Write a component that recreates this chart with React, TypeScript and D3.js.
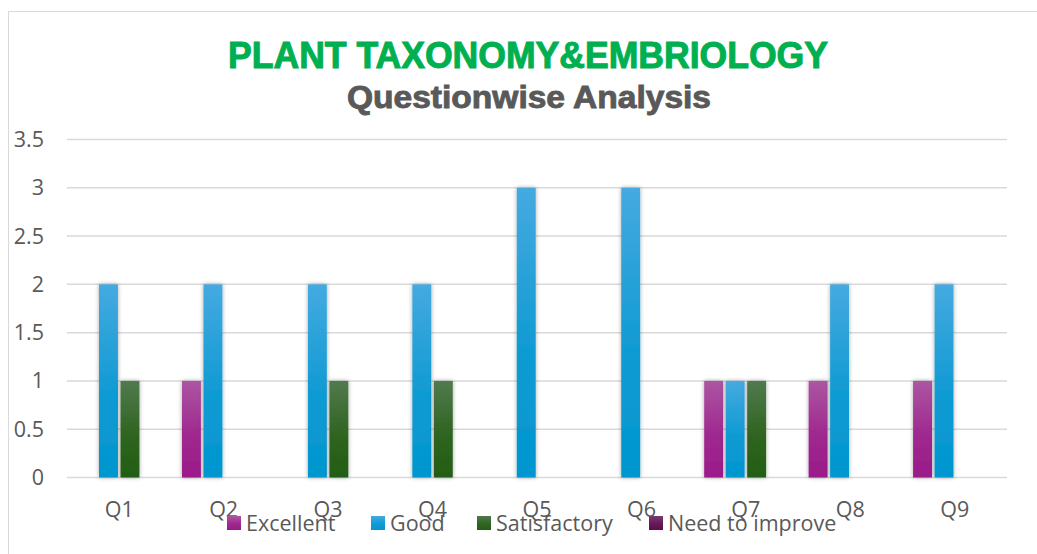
import React, { useEffect, useRef } from 'react';
import * as d3 from 'd3';

const categories = ['Q1', 'Q2', 'Q3', 'Q4', 'Q5', 'Q6', 'Q7', 'Q8', 'Q9'];
const seriesNames = ['Excellent', 'Good', 'Satisfactory', 'Need to improve'];
const excellent = [0, 1, 0, 0, 0, 0, 1, 1, 1];
const good = [2, 2, 2, 2, 3, 3, 1, 2, 2];
const satisfactory = [1, 0, 1, 1, 0, 0, 1, 0, 0];
const needToImprove = [0, 0, 0, 0, 0, 0, 0, 0, 0];
const yTicks = [0, 0.5, 1, 1.5, 2, 2.5, 3, 3.5];

// top / bottom colours of each series gradient
const seriesColors = [
  ['#ac56a2', '#9a1a89'],
  ['#45aae0', '#0096cf'],
  ['#517a4f', '#235e12'],
  ['#7a3a70', '#5e0c50'],
];

const App = () => {
  const svgRef = useRef<SVGSVGElement>(null);

  useEffect(() => {
    const width = 1037;
    const height = 554;
    const margin = { left: 67, right: 30, top: 139.5, bottom: 76.5 };
    const labelFont = '21.5px "Open Sans", sans-serif';

    const svg = d3.select(svgRef.current);
    svg.selectAll('*').remove();
    svg.attr('width', width).attr('height', height);

    const table = [excellent, good, satisfactory, needToImprove];

    const defs = svg.append('defs');
    seriesColors.forEach((c, i) => {
      const g = defs
        .append('linearGradient')
        .attr('id', `grad${i}`)
        .attr('x1', 0)
        .attr('y1', 0)
        .attr('x2', 0)
        .attr('y2', 1);
      g.append('stop').attr('offset', '0%').attr('stop-color', c[0]);
      g.append('stop').attr('offset', '55%').attr('stop-color', d3.interpolateRgb(c[0], c[1])(0.75));
      g.append('stop').attr('offset', '100%').attr('stop-color', c[1]);
    });
    const shadow = defs.append('filter').attr('id', 'shadow').attr('x', '-50%').attr('y', '-10%').attr('width', '200%').attr('height', '120%');
    shadow
      .append('feDropShadow')
      .attr('dx', 0)
      .attr('dy', 0)
      .attr('stdDeviation', 2)
      .attr('flood-color', '#000')
      .attr('flood-opacity', 0.35);

    // chart area border
    svg
      .append('rect')
      .attr('x', 8.5)
      .attr('y', 11.5)
      .attr('width', 1040)
      .attr('height', 560)
      .attr('fill', '#fff')
      .attr('stroke', '#d9d9d9')
      .attr('stroke-width', 1);

    const x0 = d3
      .scaleBand()
      .domain(categories)
      .range([margin.left, width - margin.right])
      .padding(0);

    const x1 = d3
      .scaleBand()
      .domain(seriesNames)
      .range([0, x0.bandwidth()])
      .paddingInner(0.12)
      .paddingOuter(0.49);

    const y = d3
      .scaleLinear()
      .domain([0, 3.5])
      .range([height - margin.bottom, margin.top]);

    // gridlines
    svg
      .append('g')
      .selectAll('line')
      .data(yTicks)
      .join('line')
      .attr('x1', margin.left)
      .attr('x2', width - margin.right)
      .attr('y1', (d) => y(d))
      .attr('y2', (d) => y(d))
      .attr('stroke', '#d9d9d9')
      .attr('stroke-width', 1.5);

    // y labels
    svg
      .append('g')
      .selectAll('text')
      .data(yTicks)
      .join('text')
      .attr('x', 44)
      .attr('y', (d) => y(d))
      .attr('dy', '0.35em')
      .attr('text-anchor', 'end')
      .attr('fill', '#595959')
      .style('font', labelFont)
      .text((d) => String(d));

    // bars
    const groups = svg
      .append('g')
      .selectAll('g')
      .data(categories)
      .join('g')
      .attr('transform', (d) => `translate(${x0(d)},0)`);

    groups
      .selectAll('rect')
      .data((_, ci) => seriesNames.map((s, si) => ({ s, si, v: table[si][ci] })).filter((d) => d.v > 0))
      .join('rect')
      .attr('x', (d) => x1(d.s)!)
      .attr('width', x1.bandwidth())
      .attr('y', (d) => y(d.v))
      .attr('height', (d) => y(0) - y(d.v))
      .attr('fill', (d) => `url(#grad${d.si})`)
      .attr('filter', 'url(#shadow)');

    // category labels
    svg
      .append('g')
      .selectAll('text')
      .data(categories)
      .join('text')
      .attr('x', (d) => x0(d)! + x0.bandwidth() / 2)
      .attr('y', 509)
      .attr('dy', '0.35em')
      .attr('text-anchor', 'middle')
      .attr('fill', '#595959')
      .style('font', labelFont)
      .text((d) => d);

    // legend
    const legendX = [227, 371, 477, 649];
    const legend = svg
      .append('g')
      .selectAll('g')
      .data(seriesNames)
      .join('g')
      .attr('transform', (_, i) => `translate(${legendX[i]},523)`);
    legend
      .append('rect')
      .attr('x', 0)
      .attr('y', -7)
      .attr('width', 14)
      .attr('height', 14)
      .attr('fill', (_, i) => `url(#grad${i})`);
    legend
      .append('text')
      .attr('x', 19)
      .attr('y', 0)
      .attr('dy', '0.35em')
      .attr('fill', '#595959')
      .style('font', labelFont)
      .text((d) => d);

    // titles
    svg
      .append('text')
      .attr('x', 528)
      .attr('y', 68)
      .attr('text-anchor', 'middle')
      .attr('fill', '#00b050')
      .attr('stroke', '#00b050')
      .attr('stroke-width', 1)
      .attr('textLength', 600)
      .attr('lengthAdjust', 'spacingAndGlyphs')
      .style('font', 'bold 36px "Liberation Sans", Arial, sans-serif')
      .text('PLANT TAXONOMY&EMBRIOLOGY');

    svg
      .append('text')
      .attr('x', 529)
      .attr('y', 108)
      .attr('text-anchor', 'middle')
      .attr('fill', '#595959')
      .attr('stroke', '#595959')
      .attr('stroke-width', 0.9)
      .attr('textLength', 364)
      .attr('lengthAdjust', 'spacingAndGlyphs')
      .style('font', 'bold 31px "Liberation Sans", Arial, sans-serif')
      .text('Questionwise Analysis');
  }, []);

  return <svg ref={svgRef} style={{ position: 'absolute', left: 0, top: 0 }} />;
};

export default App;
